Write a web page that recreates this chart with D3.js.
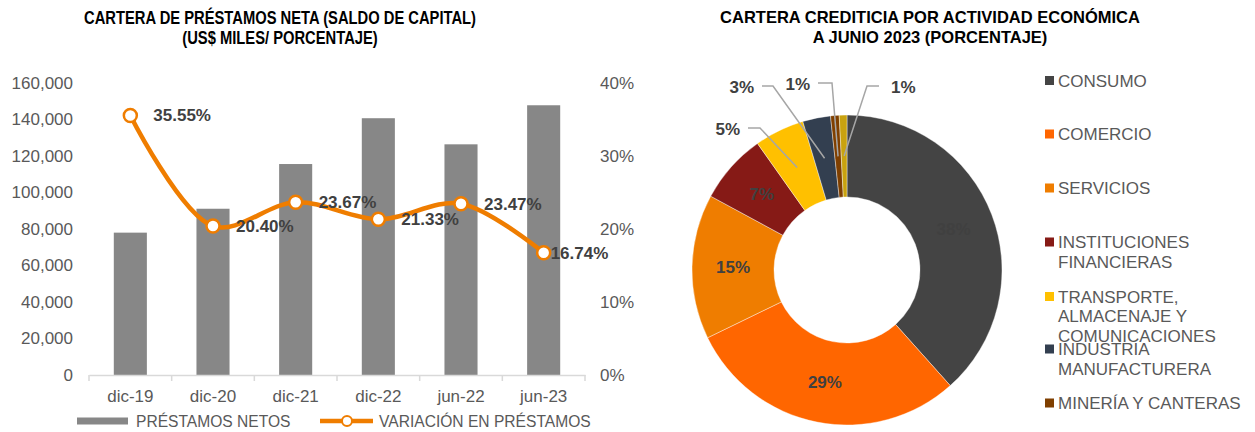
<!DOCTYPE html>
<html>
<head>
<meta charset="utf-8">
<script src="https://cdn.jsdelivr.net/npm/d3@7"></script>
<style>
  body { margin: 0; background: #fff; }
  svg { display: block; font-family: "Liberation Sans", Arial, sans-serif; }
</style>
</head>
<body>
<svg id="chart" width="1255" height="432"></svg>
<script>
// left chart data
const periods = ["dic-19", "dic-20", "dic-21", "dic-22", "jun-22", "jun-23"];
const netLoans = [78000, 91100, 115600, 140700, 126400, 147800];
const loanGrowth = [0.3555, 0.2040, 0.2367, 0.2133, 0.2347, 0.1674];
const leftTicks = [0, 20000, 40000, 60000, 80000, 100000, 120000, 140000, 160000];
const rightTicks = [0, 0.1, 0.2, 0.3, 0.4];

// right chart data
const sectors = ["CONSUMO", "COMERCIO", "SERVICIOS", "INSTITUCIONES FINANCIERAS",
  "TRANSPORTE, ALMACENAJE Y COMUNICACIONES", "INDUSTRIA MANUFACTURERA", "MINERÍA Y CANTERAS", "OTROS"];
const sectorShare = [38.4, 29.4, 15.1, 7.3, 5.2, 2.9, 0.9, 0.8];
const legendLines = [["CONSUMO"], ["COMERCIO"], ["SERVICIOS"], ["INSTITUCIONES", "FINANCIERAS"],
  ["TRANSPORTE,", "ALMACENAJE Y", "COMUNICACIONES"], ["INDUSTRIA", "MANUFACTURERA"], ["MINERÍA Y CANTERAS"]];
const sectorColors = ["#444444", "#ff6600", "#ef7d00", "#861a16", "#ffc000", "#333f50", "#7f3f00", "#c9a20f"];

const svg = d3.select("#chart");
const axisGray = "#595959", labelDark = "#404040", orange = "#ef7d00";

// ---------- left: bars + line ----------
const x = d3.scaleBand().domain(periods).range([89, 585]).paddingInner(0.6).paddingOuter(0.3);
const yL = d3.scaleLinear().domain([0, 160000]).range([375, 83]);
const yR = d3.scaleLinear().domain([0, 0.4]).range([375, 83]);

// condensed title (no narrow font installed, so squeeze horizontally)
const tl = svg.append("g").attr("transform", "translate(280,0) scale(0.82,1)");
tl.append("text").attr("y", 24).attr("text-anchor", "middle")
  .attr("font-size", 18).attr("font-weight", "bold").attr("fill", "#000")
  .text("CARTERA DE PRÉSTAMOS NETA (SALDO DE CAPITAL)");
tl.append("text").attr("y", 44).attr("text-anchor", "middle")
  .attr("font-size", 18).attr("font-weight", "bold").attr("fill", "#000")
  .text("(US$ MILES/ PORCENTAJE)");

const gl = svg.append("g").attr("transform", "translate(73,0)")
  .call(d3.axisLeft(yL).tickValues(leftTicks).tickFormat(d3.format(",")).tickSize(0).tickPadding(0));
gl.select(".domain").remove();
gl.selectAll("text").attr("font-size", 17).attr("fill", axisGray).attr("font-family", null);

const gr = svg.append("g").attr("transform", "translate(600,0)")
  .call(d3.axisRight(yR).tickValues(rightTicks).tickFormat(d3.format(".0%")).tickSize(0).tickPadding(0));
gr.select(".domain").remove();
gr.selectAll("text").attr("font-size", 17).attr("fill", axisGray).attr("font-family", null);

svg.selectAll(".bar").data(periods).join("rect").attr("class", "bar")
  .attr("x", d => x(d)).attr("width", x.bandwidth())
  .attr("y", (d, i) => yL(netLoans[i])).attr("height", (d, i) => yL(0) - yL(netLoans[i]))
  .attr("fill", "#878787");

// category axis
const gx = svg.append("g").attr("transform", "translate(0,375)")
  .call(d3.axisBottom(x).tickSize(0).tickPadding(15));
gx.select(".domain").attr("stroke", "#d9d9d9").attr("stroke-width", 1.5);
gx.selectAll("text").attr("font-size", 17).attr("fill", axisGray).attr("font-family", null);
const bounds = d3.range(periods.length + 1).map(i => x.range()[0] + i * x.step());
gx.selectAll(".sep").data(bounds).join("line").attr("class", "sep")
  .attr("x1", d => d).attr("x2", d => d).attr("y1", 0).attr("y2", 6)
  .attr("stroke", "#d9d9d9").attr("stroke-width", 1.5);

const cx = d => x(d) + x.bandwidth() / 2;
const line = d3.line().curve(d3.curveCatmullRom.alpha(0.5))
  .x((d, i) => cx(periods[i])).y(d => yR(d));
svg.append("path").datum(loanGrowth).attr("d", line)
  .attr("fill", "none").attr("stroke", orange).attr("stroke-width", 4.5);
svg.selectAll(".dot").data(loanGrowth).join("circle").attr("class", "dot")
  .attr("cx", (d, i) => cx(periods[i])).attr("cy", d => yR(d)).attr("r", 6.5)
  .attr("fill", "#fff").attr("stroke", orange).attr("stroke-width", 2.5);

const labelDx = [23, 23, 23, 23, 23, 7];
svg.selectAll(".pct").data(loanGrowth).join("text").attr("class", "pct")
  .attr("x", (d, i) => cx(periods[i]) + labelDx[i]).attr("y", d => yR(d) + 6)
  .attr("font-size", 17).attr("font-weight", "bold").attr("fill", labelDark)
  .text(d => d3.format(".2%")(d));

// legend (left)
const lg = svg.append("g").attr("transform", "translate(0,421)");
lg.append("rect").attr("x", 77).attr("y", -3.5).attr("width", 51).attr("height", 7).attr("fill", "#878787");
lg.append("text").attr("x", 136).attr("y", 5.5).attr("font-size", 15.6).attr("fill", axisGray).text("PRÉSTAMOS NETOS");
lg.append("line").attr("x1", 320).attr("x2", 373).attr("stroke", orange).attr("stroke-width", 4.5);
lg.append("circle").attr("cx", 347).attr("r", 5).attr("fill", "#fff").attr("stroke", orange).attr("stroke-width", 2);
lg.append("text").attr("x", 379).attr("y", 5.5).attr("font-size", 15.6).attr("fill", axisGray).text("VARIACIÓN EN PRÉSTAMOS");

// ---------- right: donut ----------
svg.append("text").attr("x", 930).attr("y", 23).attr("text-anchor", "middle")
  .attr("font-size", 16.5).attr("font-weight", "bold").attr("fill", "#000")
  .text("CARTERA CREDITICIA POR ACTIVIDAD ECONÓMICA");
svg.append("text").attr("x", 930).attr("y", 43).attr("text-anchor", "middle")
  .attr("font-size", 16.5).attr("font-weight", "bold").attr("fill", "#000")
  .text("A JUNIO 2023 (PORCENTAJE)");

const dc = { x: 847, y: 270 };
const pie = d3.pie().sort(null).value(d => d);
const arcs = pie(sectorShare);
const arc = d3.arc().innerRadius(73).outerRadius(155);
const dg = svg.append("g").attr("transform", `translate(${dc.x},${dc.y})`);
dg.selectAll("path").data(arcs).join("path").attr("d", arc)
  .attr("fill", (d, i) => sectorColors[i]).attr("stroke", "#fff").attr("stroke-width", 0.4);

// inside labels for big slices, leader lines for small ones
const insideN = 4;
dg.selectAll(".in").data(arcs.slice(0, insideN)).join("text").attr("class", "in")
  .attr("transform", d => `translate(${arc.centroid(d)})`).attr("dy", 6)
  .attr("text-anchor", "middle").attr("font-size", 17).attr("font-weight", "bold").attr("fill", labelDark)
  .text(d => Math.round(d.data) + "%");

// elbow offsets from donut centre and horizontal run (style only)
const elbows = [[-87, -142, -12], [-74, -184, -11], [-15, -187, -14], [20, -184, 12]];
const small = arcs.slice(insideN);
small.forEach((d, k) => {
  const c = arc.centroid(d);
  const [ex, ey, run] = elbows[k];
  dg.append("polyline").attr("points", [c, [ex, ey], [ex + run, ey]].map(p => p.join(",")).join(" "))
    .attr("fill", "none").attr("stroke", "#a6a6a6").attr("stroke-width", 1.5);
  dg.append("text").attr("x", ex + run + (run < 0 ? -8 : 12)).attr("y", ey + 7)
    .attr("text-anchor", run < 0 ? "end" : "start")
    .attr("font-size", 17).attr("font-weight", "bold").attr("fill", labelDark)
    .text(Math.round(d.data) + "%");
});

// legend (right)
const rg = svg.append("g").attr("transform", "translate(1045,0)");
const legendY = [80.5, 134, 188, 242, 296.5, 349, 403];
legendLines.forEach((lines, i) => {
  rg.append("rect").attr("x", 0).attr("y", legendY[i] - 4.5).attr("width", 9).attr("height", 9).attr("fill", sectorColors[i]);
  lines.forEach((t, j) => {
    rg.append("text").attr("x", 13).attr("y", legendY[i] + 6 + j * 19.5)
      .attr("font-size", 17).attr("fill", axisGray).text(t);
  });
});
</script>
</body>
</html>
